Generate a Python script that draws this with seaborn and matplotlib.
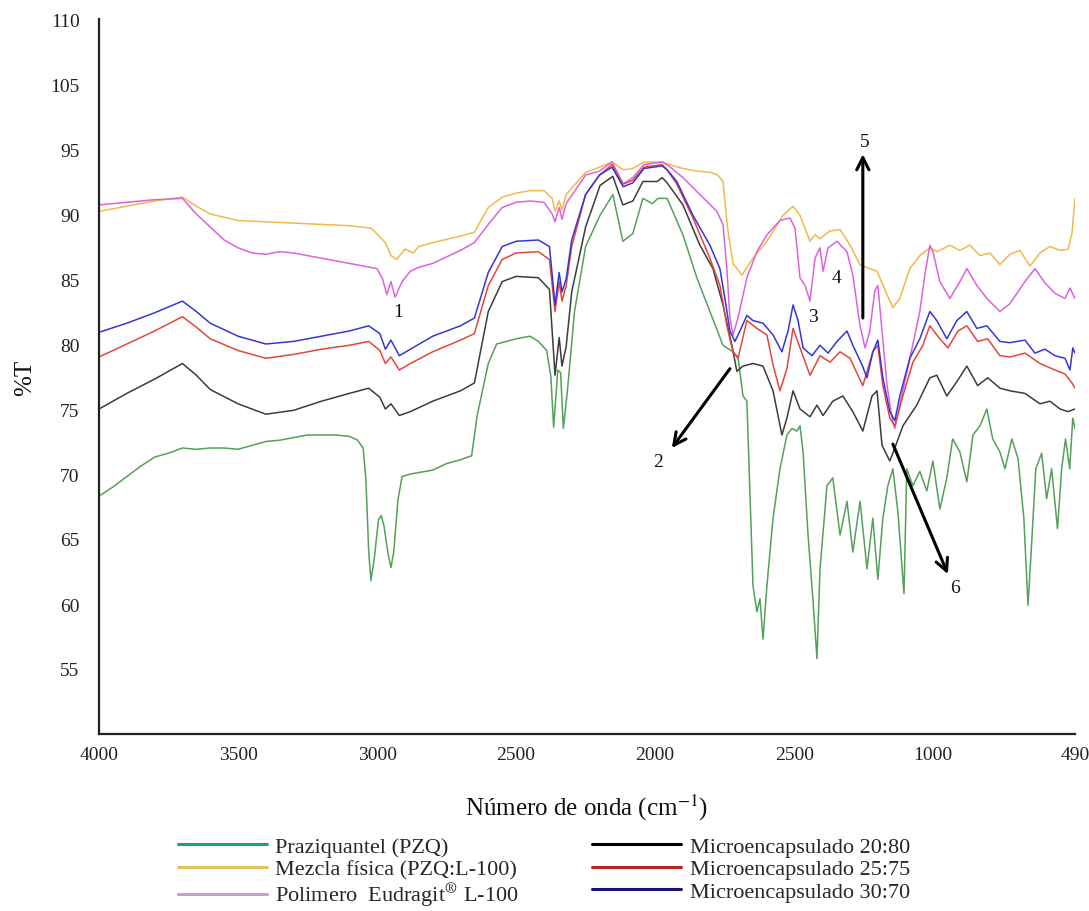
import matplotlib
matplotlib.use("Agg")
import matplotlib.pyplot as plt
from matplotlib.lines import Line2D
import pandas as pd
import seaborn as sns

# FTIR spectra: (wavenumber cm-1, %T)
PZQ = [(4000,68.3),(3950,69.0),(3900,69.8),(3850,70.6),(3800,71.3),(3750,71.6),(3700,72.0),(3650,71.9),(3600,72.0),(3550,72.0),
       (3500,71.9),(3450,72.2),(3400,72.5),(3350,72.6),(3300,72.8),(3250,73.0),(3200,73.0),(3150,73.0),(3100,72.9),(3070,72.6),
       (3050,72.0),(3040,69.5),(3030,64.0),(3022,61.8),(3010,63.5),(2995,66.5),(2985,66.8),(2975,66.0),(2960,63.8),(2950,62.8),
       (2940,64.0),(2925,68.0),(2910,69.8),(2880,70.0),(2800,70.3),(2750,70.8),(2700,71.1),(2660,71.4),(2640,74.5),(2600,78.5),
       (2570,80.0),(2500,80.4),(2450,80.6),(2420,80.2),(2390,79.5),(2375,77.5),(2365,73.6),(2350,78.0),(2340,77.8),(2330,73.5),
       (2315,76.5),(2290,82.5),(2250,87.5),(2198,89.9),(2152,91.5),(2116,87.9),(2080,88.5),(2044,91.2),(2010,90.8),(1990,91.2),
       (1957,91.2),(1900,88.4),(1850,85.1),(1803,82.5),(1756,79.9),(1720,79.4),(1702,79.0),(1684,76.0),(1670,75.6),(1648,61.4),
       (1634,59.4),(1623,60.4),(1612,57.3),(1598,61.4),(1576,66.6),(1551,70.4),(1526,73.0),(1508,73.5),(1490,73.3),(1479,73.7),
       (1468,71.7),(1450,65.3),(1432,60.2),(1418,55.8),(1407,62.7),(1382,69.1),(1361,69.7),(1335,65.3),(1310,67.9),(1289,64.0),
       (1263,67.9),(1238,62.7),(1217,66.6),(1199,61.9),(1181,66.6),(1163,69.1),(1145,70.4),(1127,67.1),(1105,60.8),(1095,70.4),
       (1073,69.1),(1048,70.2),(1023,68.7),(1001,71.0),(976,67.3),(951,69.7),(930,72.7),(904,71.7),(879,69.4),(857,73.0),
       (832,73.7),(807,75.0),(786,72.7),(760,71.7),(742,70.4),(717,72.7),(695,71.2),(674,66.6),(659,59.9),(645,65.0),
       (631,70.4),(610,71.6),(592,68.1),(574,70.4),(553,65.8),(538,70.4),(524,72.7),(509,70.4),(498,74.3),(490,73.5)]

MEZCLA = [(4000,90.2),(3900,90.6),(3800,91.0),(3700,91.3),(3650,90.6),(3600,90.0),(3500,89.5),(3400,89.4),(3300,89.3),(3200,89.2),
          (3100,89.1),(3020,88.9),(2970,87.8),(2950,86.8),(2930,86.5),(2900,87.3),(2870,87.0),(2850,87.5),(2800,87.8),(2700,88.3),
          (2650,88.6),(2600,90.5),(2550,91.3),(2500,91.6),(2450,91.8),(2400,91.8),(2370,91.2),(2360,90.2),(2345,91.0),(2335,90.3),
          (2320,91.5),(2250,93.2),(2200,93.6),(2155,94.0),(2115,93.4),(2080,93.5),(2040,94.0),(1975,94.0),(1950,93.8),(1900,93.5),
          (1850,93.3),(1800,93.2),(1775,93.0),(1756,92.5),(1740,89.0),(1720,86.2),(1688,85.3),(1648,86.6),(1598,87.9),(1540,89.9),
          (1504,90.6),(1479,89.9),(1443,87.9),(1425,88.4),(1407,88.1),(1371,88.7),(1335,88.8),(1299,87.6),(1263,86.1),(1228,85.8),
          (1202,85.6),(1166,83.8),(1145,82.8),(1120,83.5),(1084,85.8),(1048,86.8),(1012,87.4),(987,87.1),(940,87.6),(904,87.2),
          (868,87.6),(832,86.8),(796,87.0),(760,86.1),(724,86.9),(688,87.2),(652,86.0),(616,87.0),(580,87.5),(544,87.2),
          (515,87.3),(501,88.5),(490,91.2)]

POLIMERO = [(4000,90.7),(3900,90.9),(3800,91.1),(3700,91.2),(3650,90.0),(3600,89.0),(3550,88.0),(3500,87.4),(3450,87.0),(3400,86.9),
            (3350,87.1),(3300,87.0),(3200,86.6),(3100,86.2),(3050,86.0),(3000,85.8),(2980,85.0),(2965,83.8),(2950,84.8),(2935,83.6),
            (2910,84.8),(2880,85.6),(2850,85.9),(2800,86.2),(2700,87.2),(2650,87.8),(2600,89.2),(2550,90.5),(2500,90.9),(2450,91.0),
            (2400,90.9),(2370,90.0),(2360,89.4),(2345,90.5),(2335,89.6),(2320,90.8),(2250,93.0),(2200,93.3),(2155,94.0),(2115,92.3),
            (2080,92.8),(2040,93.8),(1975,94.0),(1957,93.8),(1900,92.8),(1839,91.5),(1778,90.2),(1756,89.2),(1742,85.8),(1731,82.0),
            (1720,80.7),(1702,82.0),(1670,85.1),(1634,87.1),(1598,88.4),(1551,89.5),(1515,89.7),(1497,88.9),(1479,85.1),(1461,84.5),
            (1443,83.3),(1425,86.6),(1407,87.4),(1396,85.6),(1378,87.4),(1346,87.9),(1310,87.1),(1289,85.3),(1263,81.4),(1245,79.7),
            (1228,81.0),(1210,84.1),(1199,84.5),(1184,81.0),(1166,76.8),(1148,74.3),(1138,73.5),(1120,75.3),(1084,78.9),(1048,82.5),
            (1030,85.3),(1012,87.6),(1001,87.1),(976,84.8),(940,83.5),(904,84.8),(879,85.8),(843,84.5),(807,83.5),(760,82.5),
            (724,83.1),(670,84.8),(634,85.8),(598,84.7),(562,83.9),(526,83.5),(508,84.3),(490,83.5)]

MICRO_20_80 = [(4000,75.0),(3900,76.2),(3800,77.3),(3700,78.5),(3650,77.6),(3600,76.5),(3500,75.4),(3400,74.6),(3300,74.9),(3200,75.6),
               (3100,76.2),(3030,76.6),(2990,75.9),(2970,75.0),(2950,75.4),(2920,74.5),(2880,74.8),(2800,75.6),(2700,76.4),(2650,77.0),
               (2600,82.5),(2550,84.8),(2500,85.2),(2420,85.1),(2380,84.2),(2360,77.6),(2345,80.5),(2335,78.3),(2320,79.8),(2300,84.0),
               (2250,89.0),(2198,92.2),(2152,92.9),(2116,90.7),(2080,91.0),(2044,92.5),(1993,92.5),(1975,92.8),(1957,92.4),(1900,90.7),
               (1839,87.6),(1792,85.8),(1756,83.0),(1724,79.9),(1706,77.9),(1684,78.3),(1648,78.5),(1612,78.3),(1576,76.4),(1544,73.0),
               (1526,74.3),(1504,76.4),(1479,75.0),(1443,74.4),(1418,75.3),(1396,74.5),(1361,75.6),(1325,76.0),(1289,74.8),(1253,73.3),
               (1220,76.0),(1202,76.4),(1184,72.2),(1156,71.0),(1138,72.0),(1109,73.7),(1059,75.3),(1012,77.4),(987,77.6),(951,76.0),
               (915,77.1),(879,78.3),(840,76.8),(804,77.4),(760,76.6),(724,76.4),(670,76.2),(616,75.4),(580,75.6),(544,75.0),
               (515,74.8),(490,75.0)]

MICRO_25_75 = [(4000,79.0),(3900,80.0),(3800,81.0),(3700,82.1),(3650,81.3),(3600,80.4),(3500,79.5),(3400,78.9),(3300,79.2),(3200,79.6),
               (3100,79.9),(3030,80.2),(2990,79.5),(2970,78.5),(2950,79.0),(2920,78.0),(2880,78.5),(2800,79.4),(2700,80.3),(2650,80.8),
               (2600,84.5),(2550,86.5),(2500,87.0),(2420,87.1),(2380,86.5),(2360,82.5),(2345,84.8),(2335,83.3),(2320,84.5),(2300,87.5),
               (2250,91.5),(2200,93.0),(2155,93.8),(2115,92.3),(2080,92.6),(2040,93.6),(1975,93.8),(1957,93.4),(1922,92.3),(1864,89.7),
               (1803,86.6),(1767,84.5),(1742,81.4),(1720,79.4),(1702,78.9),(1670,81.8),(1634,81.2),(1598,80.7),(1576,78.4),(1551,76.4),
               (1526,78.1),(1504,81.2),(1479,79.7),(1443,77.6),(1407,79.1),(1371,78.6),(1335,79.4),(1299,78.9),(1253,76.8),(1217,79.4),
               (1199,79.9),(1181,76.8),(1156,74.3),(1138,73.7),(1109,76.0),(1073,78.6),(1037,79.9),(1012,81.4),(976,80.4),(947,79.7),
               (911,81.0),(879,81.4),(840,80.2),(804,80.4),(760,79.1),(724,79.0),(670,79.3),(616,78.5),(562,78.0),(526,77.7),
               (501,77.0),(490,76.6)]

MICRO_30_70 = [(4000,80.9),(3900,81.6),(3800,82.4),(3700,83.3),(3650,82.5),(3600,81.6),(3500,80.6),(3400,80.0),(3300,80.2),(3200,80.6),
               (3100,81.0),(3030,81.4),(2990,80.8),(2970,79.6),(2950,80.3),(2920,79.1),(2880,79.6),(2800,80.6),(2700,81.4),(2650,82.0),
               (2600,85.5),(2550,87.5),(2500,87.9),(2420,88.0),(2380,87.5),(2360,83.0),(2345,85.5),(2335,84.0),(2320,85.0),(2300,88.0),
               (2250,91.5),(2200,93.0),(2155,93.6),(2115,92.1),(2080,92.4),(2040,93.5),(1975,93.7),(1957,93.4),(1922,92.5),(1864,89.9),
               (1803,87.6),(1767,85.8),(1749,83.5),(1731,81.0),(1713,80.2),(1695,81.0),(1670,82.2),(1648,81.8),(1612,81.6),(1576,80.7),
               (1544,79.4),(1522,81.0),(1504,83.0),(1486,81.8),(1468,79.7),(1436,79.1),(1407,79.9),(1378,79.3),(1346,80.2),(1310,81.0),
               (1289,79.9),(1256,78.4),(1238,77.4),(1217,79.4),(1199,80.3),(1181,77.4),(1156,74.8),(1138,74.1),(1120,76.0),(1084,78.9),
               (1048,80.4),(1012,82.5),(987,81.8),(951,80.4),(915,81.8),(879,82.5),(843,81.2),(807,81.4),(760,80.2),(724,80.1),
               (670,80.3),(634,79.3),(598,79.6),(562,79.1),(526,78.9),(508,78.0),(498,79.7),(490,79.3)]

SERIES_NAMES = ["Praziquantel (PZQ)", "Mezcla física (PZQ:L-100)", "Polimero  Eudragit$^{®}$ L-100",
                "Microencapsulado 20:80", "Microencapsulado 25:75", "Microencapsulado 30:70"]
SERIES_DATA = [PZQ, MEZCLA, POLIMERO, MICRO_20_80, MICRO_25_75, MICRO_30_70]

LINE_COLORS = ["#55a05a", "#f0b94a", "#de62dc", "#3c3c3c", "#e4463c", "#3636d6"]
LEGEND_COLORS = ["#1fa46c", "#e6c35c", "#c89bd2", "#000000", "#b3281f", "#14146e"]

XTICKS = [4000, 3500, 3000, 2500, 2000, 1500, 1000, 490]
XTICK_LABELS = ["4000", "3500", "3000", "2500", "2000", "2500", "1000", "490"]
YTICKS = [55, 60, 65, 70, 75, 80, 85, 90, 95, 100, 105]
YTICK_LABELS = ["55", "60", "65", "70", "75", "80", "85", "90", "95", "105", "110"]

# band markers: label with its position, and arrows (start, end)
BAND_LABELS = [("1", (2925, 82.5)), ("2", (1990, 71.0)), ("3", (1432, 82.1)),
               ("4", (1346, 85.1)), ("5", (1245, 95.6)), ("6", (922, 61.3))]
BAND_ARROWS = [((1731, 78.1), (1940, 72.0)), ((1253, 82.0), (1253, 94.6)), ((1145, 72.3), (947, 62.3))]

rows = []
for name, pts in zip(SERIES_NAMES, SERIES_DATA):
    for wn, t in pts:
        rows.append((name, wn, t))
df = pd.DataFrame(rows, columns=["serie", "wn", "T"])

sns.set_theme(style="white")
plt.rcParams["font.family"] = ["Liberation Serif", "DejaVu Serif"]
plt.rcParams["mathtext.fontset"] = "stix"

fig = plt.figure(figsize=(10.89, 9.12), dpi=100)
ax = fig.add_axes([99 / 1089, 1 - 735 / 912, (1075 - 99) / 1089, (735 - 20) / 912])

sns.lineplot(data=df, x="wn", y="T", hue="serie", hue_order=SERIES_NAMES,
             palette=dict(zip(SERIES_NAMES, LINE_COLORS)), estimator=None, sort=False,
             lw=1.1, legend=False, ax=ax)

ax.set_xlim(4000, 490)
ax.set_ylim(50, 105)
ax.set_xticks(XTICKS)
ax.set_xticklabels(XTICK_LABELS)
ax.set_yticks(YTICKS)
ax.set_yticklabels(YTICK_LABELS)
for side in ("top", "right"):
    ax.spines[side].set_visible(False)
for side in ("left", "bottom"):
    ax.spines[side].set_color("#222222")
    ax.spines[side].set_linewidth(1.6)
ax.tick_params(axis="both", direction="out", width=1.4, colors="#222222", labelsize=14)
ax.tick_params(axis="x", length=8, pad=1)
ax.tick_params(axis="y", length=10, pad=4)

ax.set_xlabel("Número de onda (cm$^{-1}$)", fontsize=18, labelpad=20, color="#111111")
ax.set_ylabel("%T", fontsize=18, labelpad=10, color="#111111")

for (a, b) in BAND_ARROWS:
    ax.annotate("", xy=b, xytext=a,
                arrowprops=dict(arrowstyle="->", lw=2.2, color="black",
                                mutation_scale=22, shrinkA=0, shrinkB=0))
for txt, pos in BAND_LABELS:
    ax.text(pos[0], pos[1], txt, ha="center", va="center", fontsize=14, color="#111111")

handles = [Line2D([0], [0], color=c, lw=2.2) for c in LEGEND_COLORS]
fig.legend(handles, SERIES_NAMES, ncol=2, loc="upper center",
           bbox_to_anchor=(544 / 1089, 1 - 833 / 912), frameon=False, fontsize=16,
           handlelength=4.0, columnspacing=3.3, labelspacing=0.08, handletextpad=0.4,
           borderaxespad=0.0, borderpad=0.2)

fig.savefig("out.png", dpi=100)
